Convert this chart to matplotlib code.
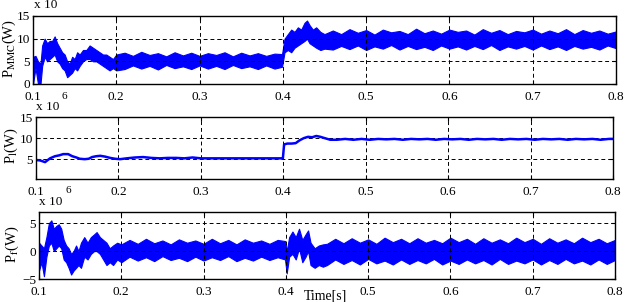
import matplotlib
matplotlib.use('Agg')
import matplotlib.pyplot as plt

plt.rcParams['font.family'] = ['Liberation Serif', 'DejaVu Serif']
plt.rcParams['mathtext.fontset'] = 'stix'
plt.rcParams['font.size'] = 9.5

# ---- data (units: x10^6 W) ----
# P_MMC: lower / upper envelope of the ripple band
t_mmc = [0.100, 0.103, 0.106, 0.109, 0.111, 0.114, 0.117, 0.120, 0.123, 0.126,
         0.129, 0.132, 0.135, 0.138, 0.141, 0.144, 0.147, 0.150, 0.153, 0.156,
         0.160, 0.164, 0.168, 0.172, 0.176, 0.180, 0.184, 0.188, 0.192, 0.196,
         0.200, 0.210, 0.220, 0.230, 0.240, 0.250, 0.260, 0.270, 0.280, 0.290,
         0.300, 0.310, 0.320, 0.330, 0.340, 0.350, 0.360, 0.370, 0.380, 0.390,
         0.399, 0.402, 0.406, 0.410, 0.414, 0.418, 0.422, 0.426, 0.429, 0.432,
         0.436, 0.440, 0.445, 0.450, 0.460, 0.470, 0.480, 0.490, 0.500, 0.510,
         0.520, 0.530, 0.540, 0.550, 0.560, 0.570, 0.580, 0.590, 0.600, 0.610,
         0.620, 0.630, 0.640, 0.650, 0.660, 0.670, 0.680, 0.690, 0.700, 0.710,
         0.720, 0.730, 0.740, 0.750, 0.760, 0.770, 0.780, 0.790, 0.800]
lo_mmc = [0.0, 3.5, 0.0, 0.0, 4.0, 6.0, 5.0, 5.5, 6.0, 6.5,
          5.0, 4.5, 3.5, 3.0, 1.5, 2.0, 2.5, 3.5, 3.0, 4.0,
          5.0, 5.5, 5.5, 5.0, 5.0, 4.5, 4.0, 3.5, 3.0, 3.5,
          3.0, 3.3, 4.1, 3.4, 4.0, 3.2, 4.2, 3.5, 3.9, 3.3,
          4.1, 3.4, 4.0, 3.3, 4.2, 3.5, 3.9, 3.3, 4.1, 3.4,
          3.8, 7.0, 7.5, 7.0, 8.0, 8.5, 9.0, 9.5, 10.0, 9.0,
          8.5, 8.0, 7.5, 7.8, 7.6, 8.4, 7.7, 8.5, 7.5, 8.3,
          7.8, 8.6, 7.6, 8.4, 7.7, 8.2, 7.5, 8.5, 7.8, 8.3,
          7.6, 8.4, 7.7, 8.6, 7.5, 8.3, 7.8, 8.4, 7.6, 8.5,
          7.7, 8.3, 7.5, 8.4, 7.8, 8.2, 7.6, 8.5, 7.9]
hi_mmc = [6.0, 6.2, 5.0, 4.5, 8.5, 10.0, 9.0, 9.5, 9.5, 10.5,
          9.0, 8.0, 7.0, 6.5, 5.0, 4.5, 6.0, 5.5, 7.0, 6.5,
          7.5, 7.5, 8.5, 8.0, 7.5, 7.0, 6.5, 6.5, 6.0, 5.5,
          6.5, 6.9, 6.2, 7.1, 6.4, 6.8, 6.1, 7.0, 6.3, 6.9,
          6.2, 6.8, 6.4, 7.0, 6.1, 6.9, 6.3, 6.8, 6.2, 6.7,
          6.6, 10.0, 11.0, 12.0, 11.5, 12.5, 12.0, 13.5, 14.0, 13.0,
          12.0, 12.5, 11.5, 11.0, 11.8, 11.0, 12.1, 11.3, 11.9, 10.9,
          12.0, 11.4, 11.7, 11.0, 12.2, 11.2, 11.8, 11.1, 12.0, 11.5,
          11.8, 10.9, 12.1, 11.3, 11.9, 11.0, 11.7, 11.4, 12.0, 11.1,
          11.8, 11.2, 12.1, 11.0, 11.9, 11.3, 11.8, 11.1, 11.6]

# P_l: smooth line
t_l = [0.100, 0.105, 0.111, 0.117, 0.123, 0.128, 0.133, 0.139, 0.144, 0.149,
       0.153, 0.159, 0.164, 0.168, 0.173, 0.178, 0.184, 0.190, 0.196, 0.202,
       0.210, 0.220, 0.230, 0.240, 0.250, 0.260, 0.270, 0.280, 0.290, 0.300,
       0.320, 0.340, 0.360, 0.380, 0.3995, 0.401, 0.405, 0.410, 0.415, 0.420,
       0.425, 0.430, 0.435, 0.440, 0.445, 0.450, 0.457, 0.465, 0.475, 0.485,
       0.495, 0.505, 0.515, 0.525, 0.535, 0.545, 0.555, 0.565, 0.575, 0.585,
       0.595, 0.605, 0.615, 0.625, 0.635, 0.645, 0.655, 0.665, 0.675, 0.685,
       0.695, 0.705, 0.715, 0.725, 0.735, 0.745, 0.755, 0.765, 0.775, 0.785,
       0.795, 0.800]
p_l = [4.8, 4.7, 4.3, 5.2, 5.7, 5.9, 6.2, 6.2, 5.7, 5.4,
       5.1, 5.0, 5.1, 5.5, 5.7, 5.8, 5.6, 5.3, 5.1, 5.0,
       5.2, 5.4, 5.5, 5.3, 5.2, 5.3, 5.3, 5.2, 5.4, 5.2,
       5.2, 5.2, 5.2, 5.2, 5.2, 8.5, 8.7, 8.7, 8.8, 9.5,
       10.0, 10.3, 10.2, 10.5, 10.3, 10.0, 9.6, 9.6, 9.8, 9.6,
       9.8, 9.6, 9.8, 9.7, 9.8, 9.6, 9.8, 9.7, 9.8, 9.6,
       9.8, 9.7, 9.8, 9.6, 9.8, 9.7, 9.8, 9.6, 9.8, 9.7,
       9.8, 9.6, 9.8, 9.7, 9.8, 9.6, 9.8, 9.7, 9.8, 9.6,
       9.8, 9.8]

# P_f: lower / upper envelope of the ripple band
t_f = [0.100, 0.103, 0.106, 0.109, 0.112, 0.115, 0.118, 0.121, 0.124, 0.127,
       0.130, 0.133, 0.136, 0.139, 0.142, 0.145, 0.148, 0.151, 0.155, 0.159,
       0.163, 0.167, 0.170, 0.174, 0.178, 0.182, 0.186, 0.190, 0.195, 0.200,
       0.210, 0.220, 0.230, 0.240, 0.250, 0.260, 0.270, 0.280, 0.290, 0.300,
       0.310, 0.320, 0.330, 0.340, 0.350, 0.360, 0.370, 0.380, 0.390, 0.399,
       0.401, 0.404, 0.408, 0.412, 0.416, 0.420, 0.424, 0.427, 0.430, 0.435,
       0.440, 0.445, 0.450, 0.460, 0.470, 0.480, 0.490, 0.500, 0.510, 0.520,
       0.530, 0.540, 0.550, 0.560, 0.570, 0.580, 0.590, 0.600, 0.610, 0.620,
       0.630, 0.640, 0.650, 0.660, 0.670, 0.680, 0.690, 0.700, 0.710, 0.720,
       0.730, 0.740, 0.750, 0.760, 0.770, 0.780, 0.790, 0.800]
lo_f = [-3.5, -2.0, -4.5, -1.0, 1.0, 1.5, 0.0, 0.5, 1.0, 0.5,
        -1.5, -2.0, -3.0, -4.2, -3.5, -3.0, -2.5, -3.0, -1.0, -1.5,
        -0.5, 0.0, 0.0, -0.5, -1.5, -2.5, -2.0, -2.5, -1.5, -2.0,
        -1.0, -1.7, -1.1, -1.8, -0.9, -1.6, -1.2, -1.8, -1.0, -1.7,
        -1.1, -1.6, -0.9, -1.8, -1.2, -1.7, -1.0, -1.6, -1.1, -1.5,
        -4.0, -1.0, -0.5, -1.5, 0.5, -2.0, -1.0, 0.0, -2.5, -3.0,
        -2.5, -2.8, -2.5, -1.5, -2.3, -1.6, -2.4, -1.4, -2.2, -1.7,
        -2.4, -1.5, -2.3, -1.6, -2.2, -1.4, -2.4, -1.7, -2.3, -1.5,
        -2.2, -1.6, -2.4, -1.4, -2.3, -1.7, -2.2, -1.5, -2.4, -1.6,
        -2.3, -1.4, -2.2, -1.7, -2.4, -1.5, -2.3, -1.6]
hi_f = [1.5, 1.0, 0.5, 2.5, 5.0, 5.5, 4.0, 4.5, 4.8, 4.0,
        2.0, 1.0, 0.5, -0.5, 0.0, 1.0, 0.0, 1.5, 2.5, 1.5,
        2.5, 3.0, 3.4, 2.5, 2.0, 1.5, 0.5, 1.0, 1.5, 1.2,
        2.0, 1.3, 2.2, 1.4, 1.9, 1.2, 2.1, 1.5, 1.9, 1.3,
        2.2, 1.4, 2.0, 1.2, 2.1, 1.5, 1.9, 1.3, 2.0, 1.8,
        0.0, 2.5, 3.5, 2.5, 4.0, 2.0, 3.0, 3.7, 1.5, 0.5,
        1.0, 1.2, 1.3, 2.2, 1.4, 2.3, 1.5, 2.1, 1.3, 2.4,
        1.6, 2.2, 1.4, 2.3, 1.5, 2.0, 1.4, 2.4, 1.6, 2.2,
        1.3, 2.3, 1.5, 2.1, 1.4, 2.4, 1.6, 2.2, 1.3, 2.3,
        1.5, 2.1, 1.4, 2.4, 1.6, 2.2, 1.4, 2.0]

x_ticks = [0.1, 0.2, 0.3, 0.4, 0.5, 0.6, 0.7, 0.8]
x_tick_labels = ['0.1', '0.2', '0.3', '0.4', '0.5', '0.6', '0.7', '0.8']

W, H = 627, 302
fig = plt.figure(figsize=(W / 100, H / 100), dpi=100)


def add_axes(left, top, right, bottom):
    return fig.add_axes([left / W, 1 - bottom / H, (right - left) / W, (bottom - top) / H])


blue = '#0000ff'
ax1 = add_axes(33, 16, 616, 84)
ax2 = add_axes(36, 117, 613, 179)
ax3 = add_axes(39, 212, 615, 279)

ax1.fill_between(t_mmc, lo_mmc, hi_mmc, color=blue, lw=0.8)
ax1.set_ylim(0, 15)
ax1.set_yticks([0, 5, 10, 15])

ax2.plot(t_l, p_l, color=blue, lw=1.8)
ax2.set_ylim(0.3, 15)
ax2.set_yticks([5, 10, 15])

ax3.fill_between(t_f, lo_f, hi_f, color=blue, lw=0.8)
ax3.set_ylim(-5, 7)
ax3.set_yticks([-5, 0, 5])

for ax in (ax1, ax2, ax3):
    ax.set_xlim(0.1, 0.8)
    ax.set_xticks(x_ticks)
    ax.set_xticklabels(x_tick_labels)
    ax.grid(True, color='black', linestyle=(0, (4, 3)), lw=0.7)
    ax.tick_params(direction='in', length=3, top=True, right=True,
                   labelsize=9.5, pad=2)
    ax.tick_params(axis='x', pad=5)
    for s in ax.spines.values():
        s.set_linewidth(1.0)

# exponent labels and y labels
fig.text(34 / W, 1 - 8 / H, 'x 10', fontsize=9.5, va='baseline')
fig.text(36 / W, 1 - 110 / H, 'x 10', fontsize=9.5, va='baseline')
fig.text(61 / W, 1 - 99 / H, '6', fontsize=8, va='baseline')
fig.text(39 / W, 1 - 205 / H, 'x 10', fontsize=9.5, va='baseline')
fig.text(65 / W, 1 - 193 / H, '6', fontsize=8, va='baseline')

fig.text(9 / W, 1 - 48 / H, r'P$_{\mathrm{MMC}}$(W)', rotation=90,
         ha='center', va='center', fontsize=10.5)
fig.text(11 / W, 1 - 146 / H, r'P$_{\mathrm{l}}$(W)', rotation=90,
         ha='center', va='center', fontsize=10.5)
fig.text(12 / W, 1 - 244 / H, r'P$_{\mathrm{f}}$(W)', rotation=90,
         ha='center', va='center', fontsize=10.5)

fig.text(325 / W, 1 - 300 / H, 'Time[s]', ha='center', va='baseline', fontsize=10)

fig.savefig('out.png', dpi=100)
